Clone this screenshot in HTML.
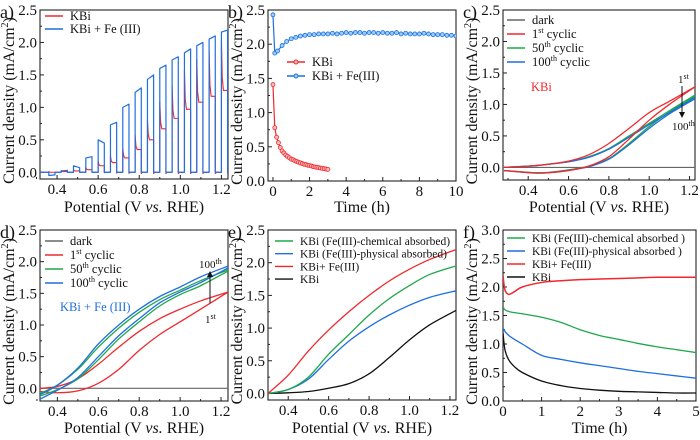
<!DOCTYPE html>
<html><head><meta charset="utf-8">
<style>
html,body{margin:0;padding:0;background:#fff;}
svg{display:block;font-family:"Liberation Serif",serif;}
</style></head>
<body>
<svg id="fig" width="700" height="440" viewBox="0 0 700 440" xmlns="http://www.w3.org/2000/svg"></svg>
<script>
// ---------- Panel a data (chopped LSV) ----------
const aLightStarts=[0.36,0.42,0.48,0.54,0.60,0.66,0.72,0.78,0.84,0.90,0.96,1.02,1.08,1.14,1.20];
const aBlueStart=[-0.05,0.02,0.10,0.22,0.50,0.73,1.00,1.23,1.43,1.60,1.73,1.84,1.95,2.05,2.16];
const aBlueEnd=[-0.04,0.03,0.07,0.24,0.45,0.77,1.05,1.30,1.50,1.65,1.78,1.90,2.00,2.10,2.19];
const aRedOn=[0.0,0.01,0.02,0.04,0.10,0.15,0.22,0.35,0.50,0.67,0.83,0.97,1.08,1.17,1.26];
// ---------- Panel b data ----------
const bRedT=[0,0.1,0.2,0.3,0.4,0.5,0.6,0.7,0.8,0.9,1.0,1.1,1.2,1.3,1.4,1.5,1.6,1.7,1.8,1.9,2.0,2.1,2.2,2.3,2.4,2.5,2.6,2.7,2.8,2.9,3.0];
const bRedJ=[1.41,0.78,0.64,0.56,0.49,0.44,0.41,0.38,0.36,0.34,0.32,0.31,0.295,0.285,0.275,0.265,0.255,0.245,0.24,0.23,0.225,0.22,0.21,0.205,0.2,0.195,0.19,0.185,0.18,0.175,0.17];
const bBlueT=[0,0.1,0.25,0.5,0.75,1,1.25,1.5,1.75,2,2.25,2.5,2.75,3,3.25,3.5,3.75,4,4.25,4.5,4.75,5,5.25,5.5,5.75,6,6.25,6.5,6.75,7,7.25,7.5,7.75,8,8.25,8.5,8.75,9,9.25,9.5,9.75,10];
const bBlueJ=[2.43,1.87,1.90,1.98,2.04,2.08,2.10,2.12,2.13,2.14,2.14,2.15,2.15,2.15,2.16,2.15,2.16,2.17,2.16,2.17,2.17,2.16,2.17,2.17,2.16,2.17,2.16,2.16,2.17,2.15,2.16,2.15,2.15,2.15,2.16,2.15,2.14,2.14,2.14,2.13,2.13,2.12];
// ---------- Panel c data (CV, KBi) ----------
const cV=[0.28,0.4,0.45,0.5,0.6,0.7,0.8,0.9,1.0,1.1,1.227];
const cRedUp=[0.0,0.02,0.035,0.05,0.10,0.20,0.38,0.62,0.87,1.05,1.28];
const cRedDn=[-0.05,-0.08,-0.09,-0.085,-0.05,0.02,0.17,0.45,0.75,1.0,1.28];
const cGreenUp=[0.0,0.02,0.03,0.05,0.09,0.17,0.30,0.50,0.70,0.90,1.15];
const cGreenDn=[-0.05,-0.08,-0.085,-0.08,-0.04,0.02,0.14,0.38,0.65,0.88,1.13];
const cBlueUp=[0.0,0.02,0.03,0.05,0.09,0.16,0.29,0.48,0.68,0.87,1.11];
const cBlueDn=[-0.05,-0.085,-0.09,-0.085,-0.045,0.01,0.13,0.36,0.62,0.85,1.09];
// ---------- Panel d data (CV, KBi + Fe) ----------
const dV=[0.315,0.4,0.5,0.6,0.7,0.8,0.9,1.0,1.1,1.234];
const dRedUp=[0.0,0.03,0.15,0.38,0.65,0.90,1.10,1.25,1.38,1.52];
const dRedDn=[-0.05,-0.07,-0.04,0.08,0.30,0.60,0.85,1.05,1.25,1.52];
const dGreenUp=[-0.08,0.05,0.30,0.65,0.95,1.20,1.40,1.55,1.70,1.87];
const dGreenDn=[-0.12,-0.02,0.15,0.45,0.78,1.05,1.30,1.48,1.62,1.85];
const dBlueUp=[-0.1,0.05,0.32,0.70,1.00,1.25,1.45,1.60,1.76,1.93];
const dBlueDn=[-0.17,-0.03,0.17,0.50,0.83,1.10,1.35,1.52,1.67,1.90];
// ---------- Panel e data ----------
const eV=[0.3,0.4,0.5,0.6,0.7,0.8,0.9,1.0,1.1,1.23];
const eRed=[0.0,0.28,0.65,0.97,1.25,1.50,1.72,1.90,2.05,2.20];
const eGreen=[0.0,0.06,0.25,0.60,0.90,1.20,1.45,1.65,1.82,1.95];
const eBlue=[0.0,0.06,0.22,0.52,0.80,1.02,1.20,1.35,1.47,1.57];
const eBlack=[0.0,0.01,0.03,0.08,0.15,0.30,0.55,0.82,1.05,1.27];
// ---------- Panel f data ----------
const fT=[0,0.05,0.15,0.3,0.5,1,1.5,2,2.5,3,3.5,4,4.5,5];
const fRed=[2.2,1.95,1.87,1.92,2.0,2.08,2.11,2.13,2.14,2.15,2.16,2.17,2.17,2.17];
const fGreen=[1.65,1.6,1.57,1.55,1.53,1.47,1.38,1.25,1.15,1.08,1.01,0.95,0.9,0.85];
const fBlue=[1.28,1.22,1.15,1.08,1.0,0.8,0.73,0.67,0.62,0.57,0.52,0.48,0.44,0.4];
const fBlack=[1.2,0.9,0.72,0.6,0.5,0.35,0.27,0.22,0.19,0.17,0.16,0.15,0.14,0.14];
// ---------- tick labels ----------
const potTicks=[0.4,0.6,0.8,1.0,1.2];
const potMinor=[0.3,0.5,0.7,0.9,1.1];
const yTicks25=[0,0.5,1.0,1.5,2.0,2.5];
const yMinor25=[0.25,0.75,1.25,1.75,2.25];
const yTicks30=[0,0.5,1.0,1.5,2.0,2.5,3.0];
const yMinor30=[0.25,0.75,1.25,1.75,2.25,2.75];
const bTimeTicks=[0,2,4,6,8,10];
const bTimeMinor=[1,3,5,7,9];
const fTimeTicks=[0,1,2,3,4,5];
const fTimeMinor=[0.5,1.5,2.5,3.5,4.5];

const NS="http://www.w3.org/2000/svg";
const svg=document.getElementById('fig');
const RED="#f0282d",BLUE="#1f6fe0",GREEN="#1fa84a",BLACK="#111",GRAY="#666";
function el(tag,attrs,parent){const e=document.createElementNS(NS,tag);for(const k in attrs)e.setAttribute(k,attrs[k]);(parent||svg).appendChild(e);return e;}
function txt(x,y,s,size,anchor,fill,parent){const t=el('text',{x:x,y:y,'font-size':size,'text-anchor':anchor||'start',fill:fill||'#111'},parent);t.textContent=s;return t;}

function axes(name,box,xd,yd,xt,xMinor,yt,yMinor,xfmt,yfmt,xtitle,label){
  const g=el('g',{});
  
  
  const sx=v=>box.l+(v-xd[0])/(xd[1]-xd[0])*(box.r-box.l);
  const sy=v=>box.b-(v-yd[0])/(yd[1]-yd[0])*(box.b-box.t);
  const fr=el('rect',{x:box.l,y:box.t,width:box.r-box.l,height:box.b-box.t,fill:'none',stroke:'#222','stroke-width':1.1},g);
  
  
  const xa=el('g',{},g);
  
  
  xt.forEach(v=>{const x=sx(v);el('line',{x1:x,x2:x,y1:box.b,y2:box.b-4,stroke:'#222'},xa);
    const t=txt(x,box.b+15,xfmt(v),15,'middle','#111',xa);
    
    });
  xMinor.forEach(v=>{const x=sx(v);el('line',{x1:x,x2:x,y1:box.b,y2:box.b-2,stroke:'#222'},xa);});
  const ya=el('g',{},g);
  
  
  yt.forEach(v=>{const y=sy(v);el('line',{x1:box.l,x2:box.l+4,y1:y,y2:y,stroke:'#222'},ya);
    const t=txt(box.l-3,y+5,yfmt(v),15,'end','#111',ya);
    
    });
  yMinor.forEach(v=>{const y=sy(v);el('line',{x1:box.l,x2:box.l+2,y1:y,y2:y,stroke:'#222'},ya);});
  const xtEl=el('text',{x:(box.l+box.r)/2,y:box.t>100?433:212,'font-size':16,'text-anchor':'middle',fill:'#111'},g);
  
  
  if(xtitle==='pot'){
    const a=el('tspan',{},xtEl);a.textContent='Potential (V ';
    const b=el('tspan',{'font-style':'italic'},xtEl);b.textContent='vs.';
    const c=el('tspan',{},xtEl);c.textContent=' RHE)';
  } else xtEl.textContent=xtitle;
  const cy=(box.t+box.b)/2+6, cx=box.l-26;
  const ytEl=el('text',{x:cx,y:cy,'font-size':16,'text-anchor':'middle',fill:'#111',transform:`rotate(-90 ${cx} ${cy})`},g);
  
  
  const p1=el('tspan',{},ytEl);p1.textContent='Current density (mA/cm';
  const p2=el('tspan',{'font-size':10,dy:-6},ytEl);p2.textContent='2';
  const p3=el('tspan',{dy:6},ytEl);p3.textContent=')';
  const lb=txt(box.l-40,box.t+8,label,18,'start','#111',g);
  
  
  const clip='clip-'+name;
  const cp=el('clipPath',{id:clip},g);el('rect',{x:box.l,y:box.t,width:box.r-box.l,height:box.b-box.t},cp);
  const plot=el('g',{'clip-path':`url(#${clip})`},g);
  return {sx,sy,g,plot,box};
}
function line(P,xs,ys,color,name,w){
  const d=xs.map((x,i)=>(i?'L':'M')+P.sx(x).toFixed(2)+','+P.sy(ys[i]).toFixed(2)).join('');
  const p=el('path',{d:d,fill:'none',stroke:color,'stroke-width':w||1.3,'stroke-linejoin':'round'},P.plot);
  
  
  return p;
}
function smooth(P,xs,ys,color,name,w){
  const pts=xs.map((x,i)=>[P.sx(x),P.sy(ys[i])]);
  let d='M'+pts[0][0]+','+pts[0][1];
  for(let i=0;i<pts.length-1;i++){
    const p0=pts[i-1]||pts[i],p1=pts[i],p2=pts[i+1],p3=pts[i+2]||p2;
    const c1=[p1[0]+(p2[0]-p0[0])/6,p1[1]+(p2[1]-p0[1])/6];
    const c2=[p2[0]-(p3[0]-p1[0])/6,p2[1]-(p3[1]-p1[1])/6];
    d+=`C${c1[0]},${c1[1]} ${c2[0]},${c2[1]} ${p2[0]},${p2[1]}`;
  }
  const p=el('path',{d:d,fill:'none',stroke:color,'stroke-width':w||1.3},P.plot);
  
  
  return p;
}
function legend(x,y,dy,items,size){
  items.forEach((it,i)=>{
    const g=el('g',{});
    
    
    const yy=y+i*dy;
    el('line',{x1:x,x2:x+18,y1:yy,y2:yy,stroke:it.c,'stroke-width':1.4},g);
    const t=el('text',{x:x+25,y:yy+4,'font-size':size||12,fill:'#111'},g);
    it.parts.forEach(pt=>{const s=el('tspan',pt.sup?{'font-size':8,dy:-5}:(pt.after?{dy:5}:{}),t);s.textContent=pt.t;});
  });
}
const fmt1=v=>v.toFixed(1), fmt0=v=>String(v);

// ===== Panel a =====
const A=axes('panel-a',{l:40,t:10,r:228,b:179},[0.317,1.232],[-0.104,2.5],potTicks,potMinor,yTicks25,yMinor25,fmt1,fmt1,'pot','a)');
(function(){
  const W=0.03;
  let xr=[0.317],yr=[0];
  aLightStarts.forEach((s,i)=>{const on=aRedOn[i];
    xr.push(s,s,s+0.004,s+0.01,s+W,s+W,s+W+0.006,s+0.06);
    yr.push(0,on*1.6+0.01,on*1.15,on,on,-0.02*Math.min(1,on*4),0,0);});
  xr.push(1.232);yr.push(0);
  line(A,xr,yr,RED,'series-kbi',1.1);
  let xb=[0.317],yb=[0];
  aLightStarts.forEach((s,i)=>{
    xb.push(s,s,s+W,s+W,s+0.06);
    yb.push(0,aBlueStart[i],aBlueEnd[i],0,0);});
  xb.push(1.232);yb.push(0);
  line(A,xb,yb,BLUE,'series-kbi-fe',1.2);
})();
legend(45,16,13,[{c:RED,parts:[{t:'KBi'}]},{c:BLUE,parts:[{t:'KBi  + Fe (III)'}]}],12.5);

// ===== Panel b =====
const B=axes('panel-b',{l:268,t:10,r:456,b:181},[-0.27,10],[0,2.5],bTimeTicks,bTimeMinor,yTicks25,yMinor25,fmt0,fmt1,'Time (h)','b)');
line(B,bRedT,bRedJ,RED,'series-kbi',1.2);
line(B,bBlueT,bBlueJ,BLUE,'series-kbi-fe',1.2);
bRedT.forEach((t,i)=>{const c=el('circle',{cx:B.sx(t),cy:B.sy(bRedJ[i]),r:2,fill:'#fbb',stroke:RED,'stroke-width':0.8},B.plot);
  
  });
bBlueT.forEach((t,i)=>{const c=el('circle',{cx:B.sx(t),cy:B.sy(bBlueJ[i]),r:2,fill:'#9cf',stroke:BLUE,'stroke-width':0.8},B.plot);
  
  });
legend(287,62,14,[{c:RED,parts:[{t:'KBi'}]},{c:BLUE,parts:[{t:'KBi + Fe(III)'}]}],12.5);
el('circle',{cx:296,cy:62,r:2,fill:'#fbb',stroke:RED});el('circle',{cx:296,cy:76,r:2,fill:'#9cf',stroke:BLUE});

// ===== Panel c =====
const C=axes('panel-c',{l:503,t:10,r:695,b:180},[0.275,1.227],[-0.2,2.5],potTicks,potMinor,yTicks25,yMinor25,fmt1,fmt1,'pot','c)');
line(C,[0.275,1.227],[0,0],GRAY,'series-dark',1.1);
smooth(C,cV,cGreenUp,GREEN,'series-50th-up');smooth(C,cV,cGreenDn,GREEN,'series-50th-down');
smooth(C,cV,cBlueUp,BLUE,'series-100th-up');smooth(C,cV,cBlueDn,BLUE,'series-100th-down');
smooth(C,cV,cRedUp,RED,'series-1st-up');smooth(C,cV,cRedDn,RED,'series-1st-down');
legend(507,20,14,[{c:GRAY,parts:[{t:'dark'}]},{c:RED,parts:[{t:'1'},{t:'st',sup:1},{t:' cyclic',after:1}]},{c:GREEN,parts:[{t:'50'},{t:'th',sup:1},{t:' cyclic',after:1}]},{c:BLUE,parts:[{t:'100'},{t:'th',sup:1},{t:' cyclic',after:1}]}],12.5);
txt(531,91,'KBi',12.5,'start',RED);
(function(){const t=el('text',{x:678,y:83,'font-size':11,fill:'#111'});const a=el('tspan',{},t);a.textContent='1';const b=el('tspan',{'font-size':8,dy:-4},t);b.textContent='st';
 el('line',{x1:682,x2:682,y1:86,y2:114,stroke:'#111'});el('path',{d:'M679,112 L682,118 L685,112 Z',fill:'#111'});
 const t2=el('text',{x:672,y:130,'font-size':11,fill:'#111'});const c=el('tspan',{},t2);c.textContent='100';const d=el('tspan',{'font-size':8,dy:-4},t2);d.textContent='th';})();

// ===== Panel d =====
const D=axes('panel-d',{l:40,t:230,r:228,b:401},[0.315,1.234],[-0.2,2.5],potTicks,potMinor,yTicks25,yMinor25,fmt1,fmt1,'pot','d)');
line(D,[0.315,1.234],[0,0],GRAY,'series-dark',1.1);
smooth(D,dV,dRedUp,RED,'series-1st-up');smooth(D,dV,dRedDn,RED,'series-1st-down');
smooth(D,dV,dGreenUp,GREEN,'series-50th-up');smooth(D,dV,dGreenDn,GREEN,'series-50th-down');
smooth(D,dV,dBlueUp,BLUE,'series-100th-up');smooth(D,dV,dBlueDn,BLUE,'series-100th-down');
legend(45,241,14,[{c:GRAY,parts:[{t:'dark'}]},{c:RED,parts:[{t:'1'},{t:'st',sup:1},{t:' cyclic',after:1}]},{c:GREEN,parts:[{t:'50'},{t:'th',sup:1},{t:' cyclic',after:1}]},{c:BLUE,parts:[{t:'100'},{t:'th',sup:1},{t:' cyclic',after:1}]}],12.5);
txt(60,311,'KBi + Fe (III)',12.5,'start',BLUE);
(function(){el('line',{x1:210,x2:210,y1:303,y2:275,stroke:'#111'});el('path',{d:'M207,277 L210,271 L213,277 Z',fill:'#111'});
 const t=el('text',{x:199,y:268,'font-size':11,fill:'#111'});const a=el('tspan',{},t);a.textContent='100';const b=el('tspan',{'font-size':8,dy:-4},t);b.textContent='th';
 const t2=el('text',{x:205,y:323,'font-size':11,fill:'#111'});const c=el('tspan',{},t2);c.textContent='1';const d=el('tspan',{'font-size':8,dy:-4},t2);d.textContent='st';})();

// ===== Panel e =====
const E=axes('panel-e',{l:268,t:230,r:456,b:400},[0.3,1.23],[-0.1,2.5],potTicks,potMinor,yTicks25,yMinor25,fmt1,fmt1,'pot','e)');
smooth(E,eV,eBlack,BLACK,'series-kbi');smooth(E,eV,eBlue,BLUE,'series-physical');
smooth(E,eV,eGreen,GREEN,'series-chemical');smooth(E,eV,eRed,RED,'series-kbi-fe');
legend(275,241,12.7,[{c:GREEN,parts:[{t:'KBi (Fe(III)-chemical absorbed)'}]},{c:BLUE,parts:[{t:'KBi (Fe(III)-physical absorbed)'}]},{c:RED,parts:[{t:'KBi+ Fe(III)'}]},{c:BLACK,parts:[{t:'KBi'}]}],11.5);

// ===== Panel f =====
const F=axes('panel-f',{l:503,t:230,r:696,b:401},[0,5],[0,3],fTimeTicks,fTimeMinor,yTicks30,yMinor30,fmt0,fmt1,'Time (h)','f)');
smooth(F,fT,fBlack,BLACK,'series-kbi');smooth(F,fT,fBlue,BLUE,'series-physical');
smooth(F,fT,fGreen,GREEN,'series-chemical');smooth(F,fT,fRed,RED,'series-kbi-fe',1.5);
legend(507,238,13,[{c:GREEN,parts:[{t:'KBi  (Fe(III)-chemical absorbed )'}]},{c:BLUE,parts:[{t:'KBi  (Fe(III)-physical  absorbed )'}]},{c:RED,parts:[{t:'KBi+ Fe(III)'}]},{c:BLACK,parts:[{t:'KBi'}]}],11.5);
</script>
</body></html>
